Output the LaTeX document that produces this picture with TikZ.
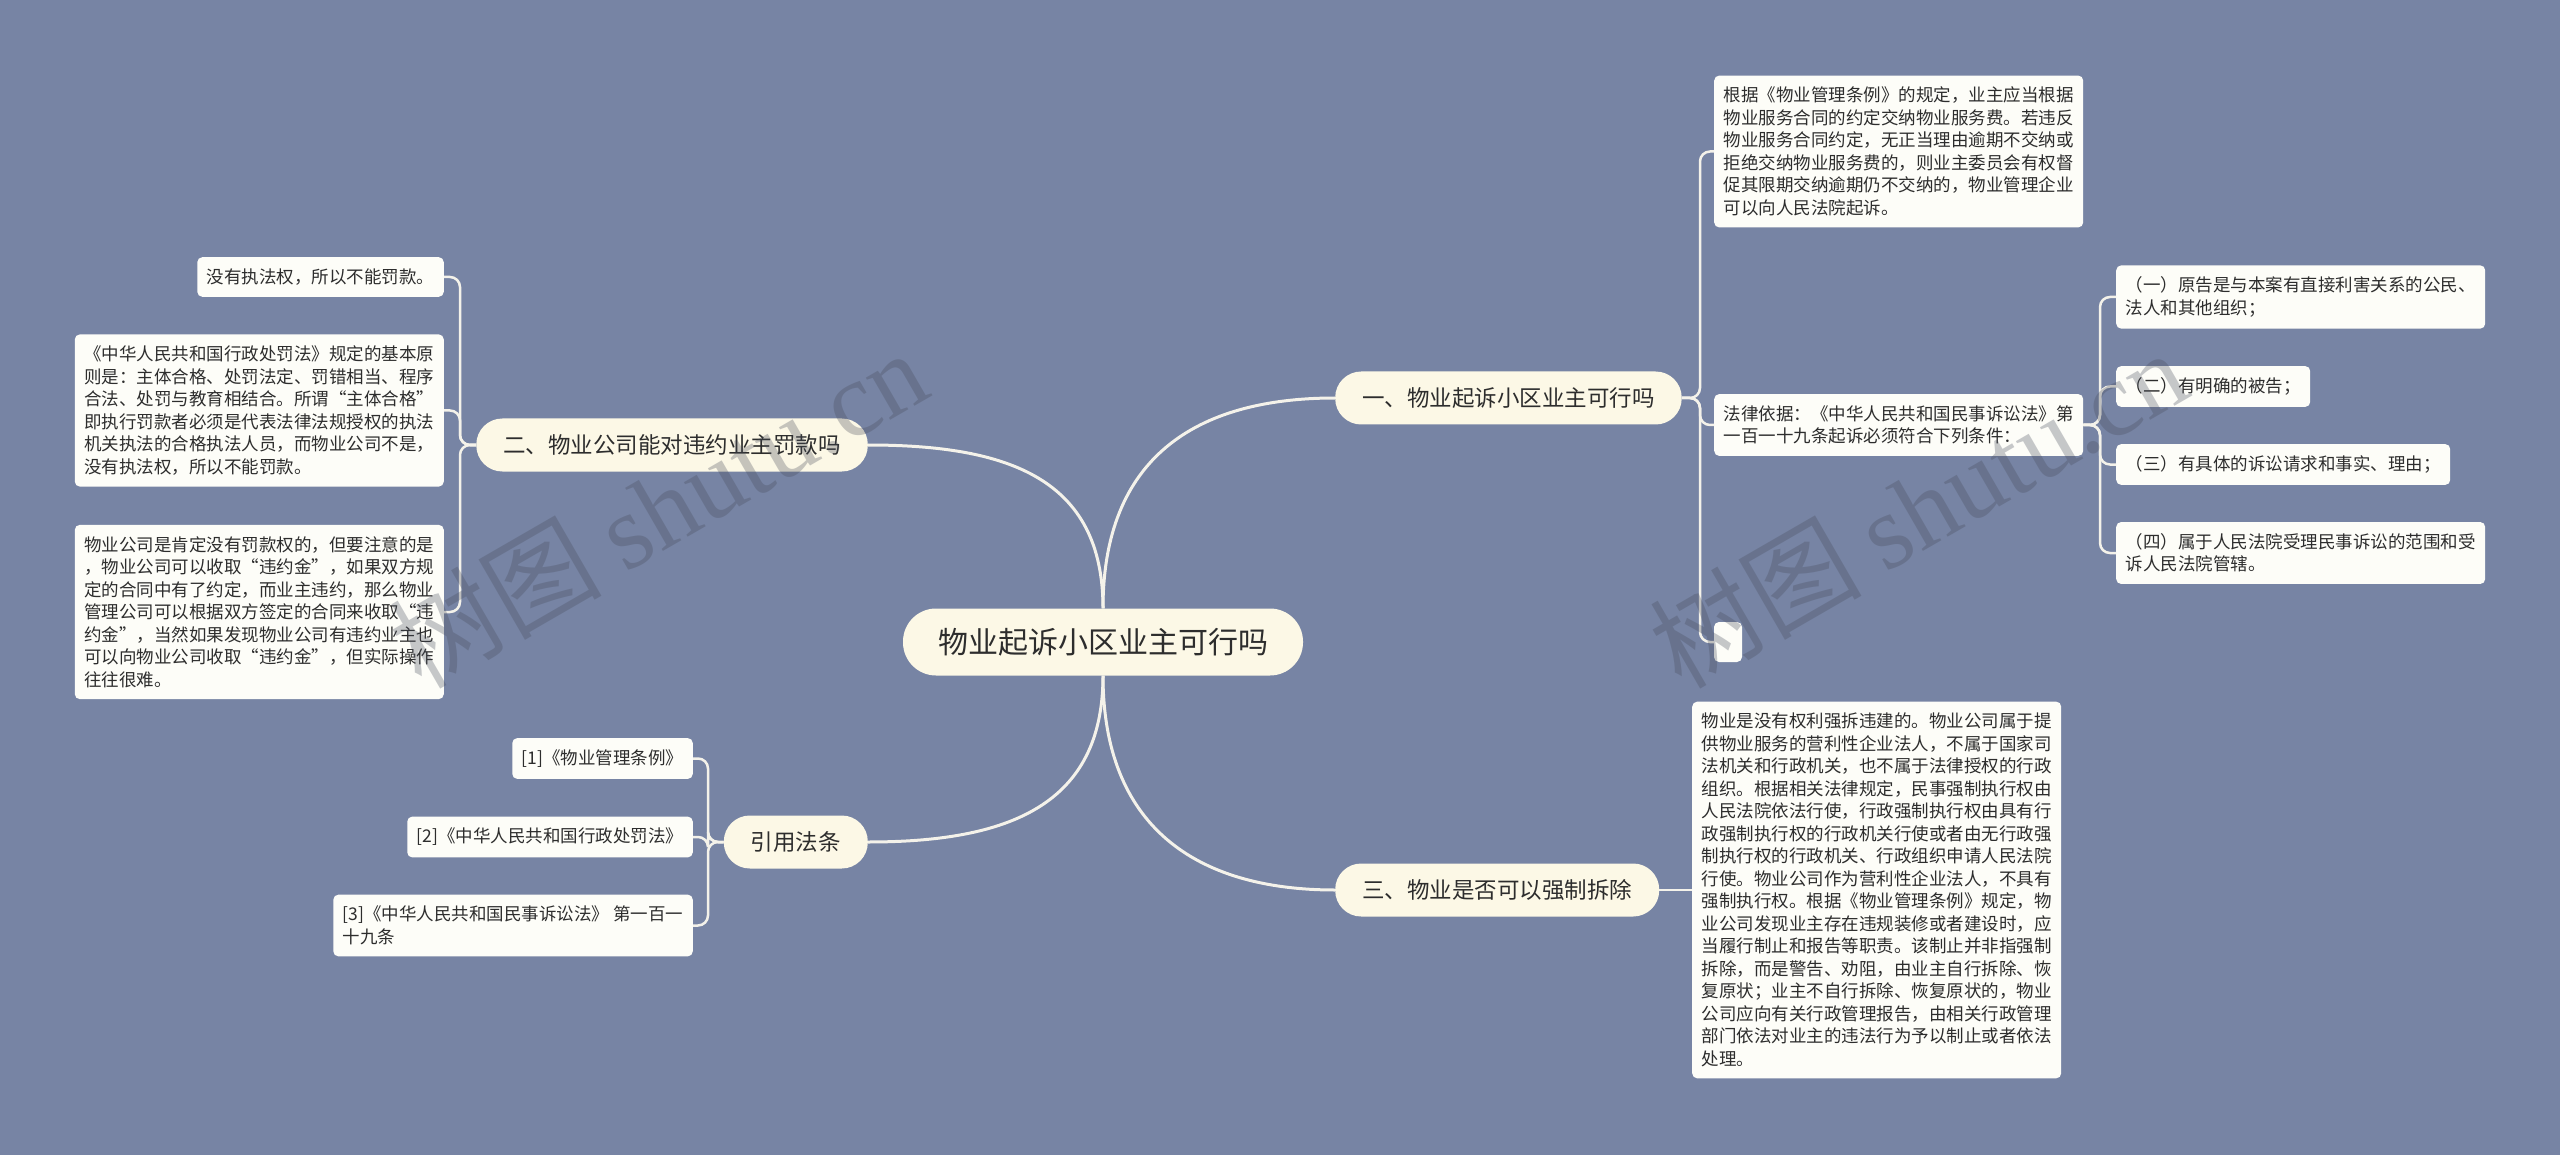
\documentclass[tikz,border=0pt]{standalone}
\usepackage{fontspec}
\setmainfont{Noto Sans CJK SC}
\newfontfamily\marcafont{Liberation Serif}

\definecolor{fundo}{RGB}{119,132,164}
\definecolor{creme}{RGB}{252,248,230}
\definecolor{folhacor}{RGB}{253,253,248}
\definecolor{linha}{RGB}{244,242,234}
\definecolor{texto}{RGB}{45,45,45}
\definecolor{marca}{RGB}{70,75,90}

\tikzset{
  raiz/.style={fill=creme, rounded corners=33pt, minimum height=67pt,
    inner xsep=35pt, text=texto, font=\fontsize{30}{36}\selectfont},
  ramo/.style={fill=creme, rounded corners=26pt, minimum height=53pt,
    inner xsep=27pt, text=texto, font=\fontsize{22.5}{27}\selectfont},
  folha/.style={fill=folhacor, rounded corners=5pt, inner xsep=9.5pt,
    inner ysep=11.5pt, align=left, text=texto,
    font=\fontsize{17.5}{22.5}\selectfont},
  liga/.style={draw=linha, line width=3pt},
  ligafina/.style={draw=linha, line width=2.5pt, rounded corners=10pt},
  marcadagua/.style={rotate=30, text=marca, opacity=0.3,
    font=\fontsize{106}{110}\selectfont}
}

\begin{document}
\begin{tikzpicture}[x=1pt,y=-1pt]
  % Fundo e tamanho da figura.
  \fill[fundo] (0,0) rectangle (2560,1155);
  \useasboundingbox (0,0) rectangle (2560,1155);

  % Raiz e ramos principais.
  \node[raiz] (raiz) at (1103,642) {物业起诉小区业主可行吗};
  \node[ramo, anchor=west] (r1) at (1335,398) {一、物业起诉小区业主可行吗};
  \node[ramo, anchor=east] (r2) at (868,445) {二、物业公司能对违约业主罚款吗};
  \node[ramo, anchor=west] (r3) at (1335,890) {三、物业是否可以强制拆除};
  \node[ramo, anchor=east] (r4) at (868,842) {引用法条};

  \draw[liga] (raiz.north) .. controls +(0,-150) and +(-140,0) .. (r1.west);
  \draw[liga] (raiz.north) .. controls +(0,-130) and +(140,0) .. (r2.east);
  \draw[liga] (raiz.south) .. controls +(0,150) and +(-140,0) .. (r3.west);
  \draw[liga] (raiz.south) .. controls +(0,130) and +(140,0) .. (r4.east);

  % Ramo um.
  \node[folha, anchor=west] (fa) at (1714,151.5) {根据《物业管理条例》的规定，业主应当根据\\
    物业服务合同的约定交纳物业服务费。若违反\\
    物业服务合同约定，无正当理由逾期不交纳或\\
    拒绝交纳物业服务费的，则业主委员会有权督\\
    促其限期交纳逾期仍不交纳的，物业管理企业\\
    可以向人民法院起诉。};
  \node[folha, anchor=west] (fb) at (1714,425) {法律依据：《中华人民共和国民事诉讼法》第\\
    一百一十九条起诉必须符合下列条件：};
  \node[fill=folhacor, rounded corners=5pt, minimum width=28pt,
    minimum height=40pt, inner sep=0pt] (vazio) at (1728,642) {};
  \coordinate (e1) at (1700,398);
  \draw[ligafina] (r1.east) -- (e1) |- (fa.west);
  \draw[ligafina] (r1.east) -- (e1) |- (fb.west);
  \draw[ligafina] (r1.east) -- (e1) |- (vazio.west);

  % Condicoes do artigo.
  \node[folha, anchor=west] (s1) at (2116,297) {（一）原告是与本案有直接利害关系的公民、\\
    法人和其他组织；};
  \node[folha, anchor=west] (s2) at (2116,386.5) {（二）有明确的被告；};
  \node[folha, anchor=west] (s3) at (2116,464.5) {（三）有具体的诉讼请求和事实、理由；};
  \node[folha, anchor=west] (s4) at (2116,553) {（四）属于人民法院受理民事诉讼的范围和受\\
    诉人民法院管辖。};
  \coordinate (e2) at (2100,425);
  \foreach \s in {s1,s2,s3,s4}
    \draw[ligafina] (fb.east) -- (e2) |- (\s.west);

  % Ramo tres.
  \node[folha, anchor=west] (fc) at (1692,890) {物业是没有权利强拆违建的。物业公司属于提\\
    供物业服务的营利性企业法人，不属于国家司\\
    法机关和行政机关，也不属于法律授权的行政\\
    组织。根据相关法律规定，民事强制执行权由\\
    人民法院依法行使，行政强制执行权由具有行\\
    政强制执行权的行政机关行使或者由无行政强\\
    制执行权的行政机关、行政组织申请人民法院\\
    行使。物业公司作为营利性企业法人，不具有\\
    强制执行权。根据《物业管理条例》规定，物\\
    业公司发现业主存在违规装修或者建设时，应\\
    当履行制止和报告等职责。该制止并非指强制\\
    拆除，而是警告、劝阻，由业主自行拆除、恢\\
    复原状；业主不自行拆除、恢复原状的，物业\\
    公司应向有关行政管理报告，由相关行政管理\\
    部门依法对业主的违法行为予以制止或者依法\\
    处理。};
  \draw[ligafina] (r3.east) -- (fc.west);

  % Ramo dois.
  \node[folha, anchor=east] (l1) at (444,277) {没有执法权，所以不能罚款。};
  \node[folha, anchor=east] (l2) at (444,410.5) {《中华人民共和国行政处罚法》规定的基本原\\
    则是：主体合格、处罚法定、罚错相当、程序\\
    合法、处罚与教育相结合。所谓“主体合格”\\
    即执行罚款者必须是代表法律法规授权的执法\\
    机关执法的合格执法人员，而物业公司不是，\\
    没有执法权，所以不能罚款。};
  \node[folha, anchor=east] (l3) at (444,612) {物业公司是肯定没有罚款权的，但要注意的是\\
    ，物业公司可以收取“违约金”，如果双方规\\
    定的合同中有了约定，而业主违约，那么物业\\
    管理公司可以根据双方签定的合同来收取“违\\
    约金”，当然如果发现物业公司有违约业主也\\
    可以向物业公司收取“违约金”，但实际操作\\
    往往很难。};
  \coordinate (e3) at (460,445);
  \foreach \l in {l1,l2,l3}
    \draw[ligafina] (r2.west) -- (e3) |- (\l.east);

  % Citacoes.
  \node[folha, anchor=east] (c1) at (693,758.5) {[1]《物业管理条例》};
  \node[folha, anchor=east] (c2) at (693,837) {[2]《中华人民共和国行政处罚法》};
  \node[folha, anchor=east] (c3) at (693,925.5) {[3]《中华人民共和国民事诉讼法》 第一百一\\
    十九条};
  \coordinate (e4) at (708,842);
  \foreach \c in {c1,c2,c3}
    \draw[ligafina] (r4.west) -- (e4) |- (\c.east);

  % Marcas d'agua.
  \node[marcadagua] (wm1) at (658,508) {树图 {\marcafont shutu.cn}};
  \node[marcadagua] (wm2) at (1918,508) {树图 {\marcafont shutu.cn}};
\end{tikzpicture}
\end{document}
